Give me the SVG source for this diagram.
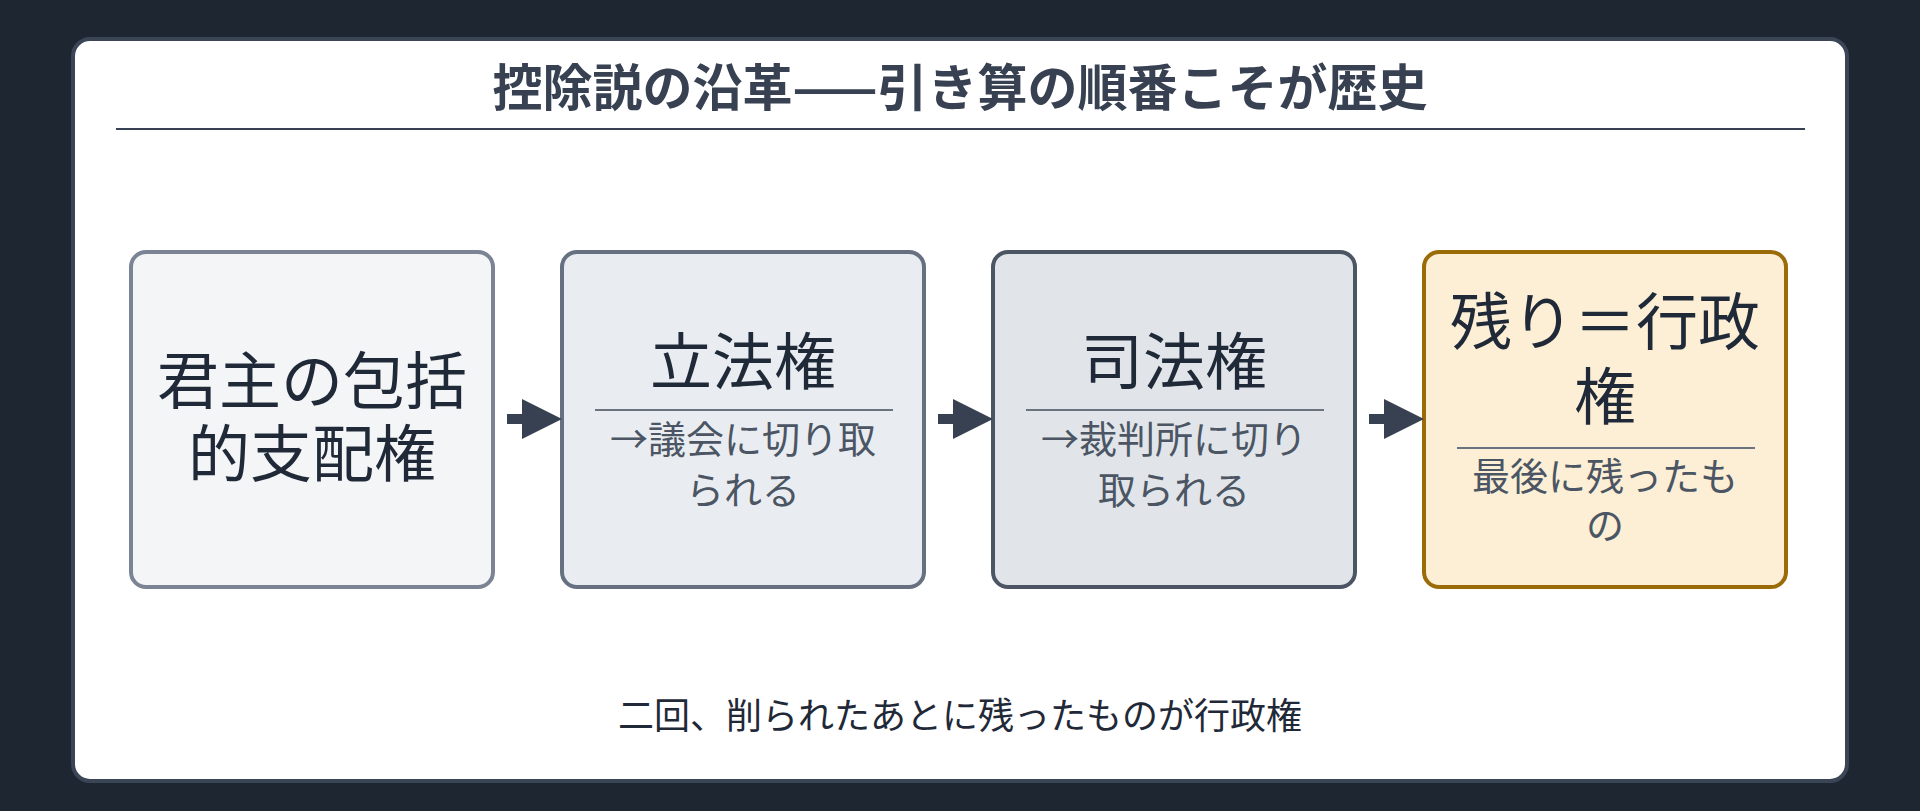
<svg xmlns="http://www.w3.org/2000/svg" width="1920" height="811" viewBox="0 0 1920 811">
<style>
text{font-family:"Noto Sans CJK JP","Noto Sans",sans-serif;text-anchor:middle}
.main{font-size:62px;fill:#1f2937}
.sub{font-size:38px;fill:#4b5563}
.sep{stroke:#6b7280;stroke-width:2}
.box{stroke-width:4}
</style>
<defs>
<marker id="ah" markerWidth="4" markerHeight="4" refX="0" refY="2" orient="auto" markerUnits="strokeWidth">
<path d="M0,0 L4,2 L0,4 Z" fill="#374151"/>
</marker>
</defs>
<rect width="1920" height="811" fill="#1e2631"/>
<rect x="73" y="39" width="1774" height="742" rx="17" fill="#ffffff" stroke="#3a4556" stroke-width="4"/>
<text x="960" y="106" style="font-size:50px;font-weight:bold;fill:#374151">控除説の沿革——引き算の順番こそが歴史</text>
<line x1="116" y1="129" x2="1805" y2="129" stroke="#374151" stroke-width="2"/>
<g id="n1">
<rect class="box" x="131" y="252" width="362" height="335" rx="15" fill="#f4f5f7" stroke="#7b8494"/>
<text class="main" x="312" y="404">君主の包括</text>
<text class="main" x="312" y="477">的支配権</text>
</g>
<g id="n2">
<rect class="box" x="562" y="252" width="362" height="335" rx="15" fill="#e9edf1" stroke="#667080"/>
<text class="main" x="743" y="385">立法権</text>
<line class="sep" x1="595" y1="410" x2="893" y2="410"/>
<text class="sub" x="743" y="453">→議会に切り取</text>
<text class="sub" x="743" y="504">られる</text>
</g>
<g id="n3">
<rect class="box" x="993" y="252" width="362" height="335" rx="15" fill="#e1e5ea" stroke="#4b5563"/>
<text class="main" x="1174" y="385">司法権</text>
<line class="sep" x1="1026" y1="410" x2="1324" y2="410"/>
<text class="sub" x="1174" y="453">→裁判所に切り</text>
<text class="sub" x="1174" y="504">取られる</text>
</g>
<g id="n4">
<rect class="box" x="1424" y="252" width="362" height="335" rx="15" fill="#fcefd6" stroke="#9a6b06"/>
<text class="main" x="1605" y="345">残り＝行政</text>
<text class="main" x="1605" y="420">権</text>
<line class="sep" x1="1457" y1="448" x2="1755" y2="448"/>
<text class="sub" x="1605" y="490">最後に残ったも</text>
<text class="sub" x="1605" y="539">の</text>
</g>
<g id="connectors" stroke="#374151" stroke-width="10" marker-end="url(#ah)">
<line x1="507" y1="419" x2="522" y2="419"/>
<line x1="938" y1="419" x2="953" y2="419"/>
<line x1="1369" y1="419" x2="1384" y2="419"/>
</g>
<text x="960" y="729" style="font-size:36px;fill:#1f2937">二回、削られたあとに残ったものが行政権</text>
</svg>
